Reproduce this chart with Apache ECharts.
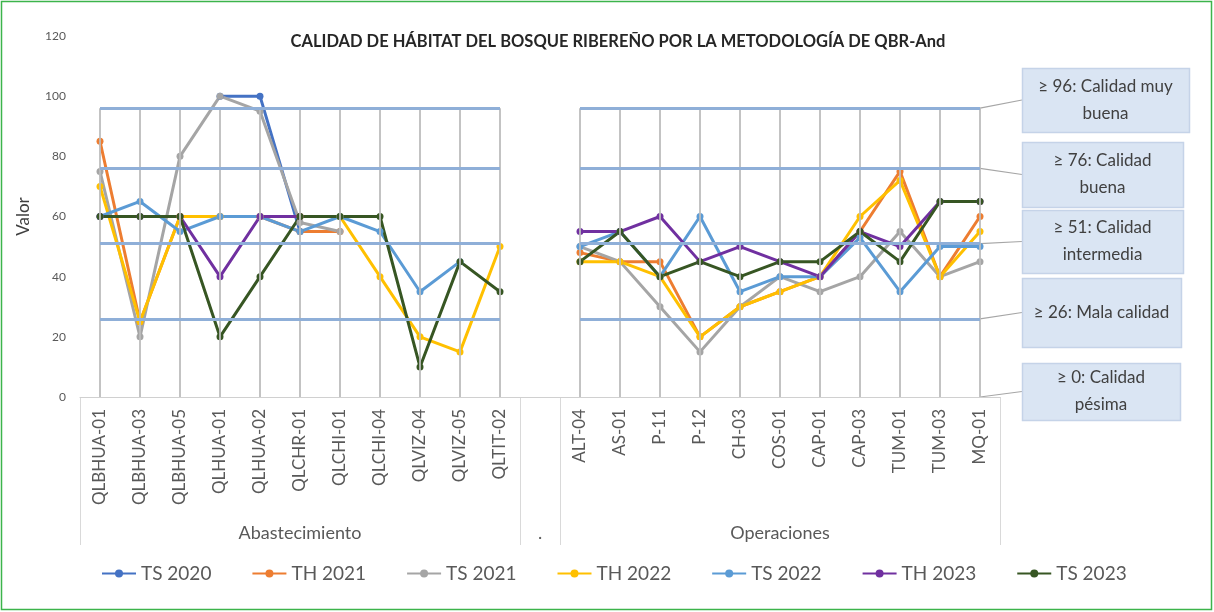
<!DOCTYPE html>
<html>
<head>
<meta charset="utf-8">
<script src="https://cdn.jsdelivr.net/npm/echarts@6/dist/echarts.min.js"></script>
<style>
html,body{margin:0;padding:0;background:#fff;}
#c{width:1214px;height:612px;}
</style>
</head>
<body>
<div id="c"></div>
<script>
// ---- data ----
const titleText = 'CALIDAD DE HÁBITAT DEL BOSQUE RIBEREÑO POR LA METODOLOGÍA DE QBR-And';
const yName = 'Valor';
const categories = ['QLBHUA-01','QLBHUA-03','QLBHUA-05','QLHUA-01','QLHUA-02','QLCHR-01','QLCHI-01','QLCHI-04','QLVIZ-04','QLVIZ-05','QLTIT-02',
  ' ',
  'ALT-04','AS-01','P-11','P-12','CH-03','COS-01','CAP-01','CAP-03','TUM-01','TUM-03','MQ-01'];
const groups = [
  {name:'Abastecimiento', first:0, last:10},
  {name:'.', first:11, last:11},
  {name:'Operaciones', first:12, last:22}
];
const seriesNames = ['TS 2020','TH 2021','TS 2021','TH 2022','TS 2022','TH 2023','TS 2023'];
const ts2020 = [null,null,null,100,100,55,null,null,null,null,null, null, null,null,null,null,null,null,null,null,null,null,null];
const th2021 = [85,25,60,60,60,55,55,null,null,null,null, null, 48,45,45,20,30,35,40,55,75,40,60];
const ts2021 = [75,20,80,100,95,58,55,null,null,null,null, null, 50,45,30,15,30,40,35,40,55,40,45];
const th2022 = [70,25,60,60,60,60,60,40,20,15,50, null, 45,45,40,20,30,35,40,60,72,40,55];
const ts2022 = [60,65,55,60,60,55,60,55,35,45,null, null, 50,55,40,60,35,40,40,53,35,50,50];
const th2023 = [60,60,60,40,60,60,null,null,null,null,null, null, 55,55,60,45,50,45,40,55,50,65,65];
const ts2023 = [60,60,60,20,40,60,60,60,10,45,35, null, 45,55,40,45,40,45,45,55,45,65,65];
const seriesData = [ts2020, th2021, ts2021, th2022, ts2022, th2023, ts2023];
const seriesColors = ['#4472C4','#ED7D31','#A5A5A5','#FFC000','#5B9BD5','#7030A0','#375623'];
const refLevels = [96, 76, 51, 26];
const calloutLevels = [96, 76, 51, 26, 0];
const calloutTexts = ['≥ 96: Calidad muy\nbuena','≥ 76: Calidad\nbuena','≥ 51: Calidad\nintermedia','≥ 26: Mala calidad','≥ 0: Calidad\npésima'];
const yTicks = {min:0, max:120, interval:20};

// ---- chart ----
const chart = echarts.init(document.getElementById('c'), null, {renderer:'canvas'});
const FONT = 'Lato';
const TXT = '#595959';

const hLines = [];
groups.filter(g => g.last > g.first).forEach(g => {
  refLevels.forEach(v => {
    hLines.push([{coord:[categories[g.first], v]}, {coord:[categories[g.last], v]}]);
  });
});
const vLines = [];
groups.filter(g => g.last > g.first).forEach(g => {
  for (let i = g.first; i <= g.last; i++) {
    vLines.push([{coord:[categories[i], 0]}, {coord:[categories[i], refLevels[0]]}]);
  }
});

const series = [
  {name:'_v', type:'line', data:[], z:1, silent:true,
   markLine:{silent:true, symbol:['none','none'], label:{show:false}, animation:false,
     lineStyle:{color:'#BDBDBD', width:1.8, type:'solid'}, data:vLines}},
  {name:'_h', type:'line', data:[], z:1, silent:true,
   markLine:{silent:true, symbol:['none','none'], label:{show:false}, animation:false,
     lineStyle:{color:'#8FAFD8', width:2.8, type:'solid'}, data:hLines}}
];
seriesNames.forEach((n, k) => {
  series.push({
    name:n, type:'line', data:seriesData[k], z:3,
    symbol:'circle', symbolSize:7, connectNulls:false,
    lineStyle:{width:3, color:seriesColors[k]},
    itemStyle:{color:seriesColors[k]}
  });
});

chart.setOption({
  animation:false,
  backgroundColor:'#fff',
  title:{text:titleText, left:613, textAlign:'center', top:28,
    textStyle:{fontFamily:FONT, fontSize:16.5, fontWeight:'bold', color:'#262626'}},
  grid:{left:80, right:214, top:36, bottom:215, containLabel:false},
  xAxis:{type:'category', data:categories, boundaryGap:true,
    axisLine:{show:true, lineStyle:{color:'#D0D0D0', width:1}},
    axisTick:{show:false},
    axisLabel:{interval:0, rotate:90, margin:12, fontFamily:FONT, fontSize:17, color:TXT},
    splitLine:{show:false}},
  yAxis:{type:'value', min:yTicks.min, max:yTicks.max, interval:yTicks.interval,
    name:yName, nameLocation:'middle', nameGap:48,
    nameTextStyle:{fontFamily:FONT, fontSize:17, color:'#404040'},
    axisLine:{show:false}, axisTick:{show:false}, splitLine:{show:false},
    axisLabel:{fontFamily:FONT, fontSize:12, color:TXT, margin:14}},
  legend:{data:seriesNames, left:96, top:559, itemWidth:34, itemHeight:10, itemGap:40,
    textStyle:{fontFamily:FONT, fontSize:19, color:TXT}},
  series:series
});

// ---- decorations computed from the chart's scales ----
const p0 = chart.convertToPixel({gridIndex:0}, [categories[0], 0]);
const p1 = chart.convertToPixel({gridIndex:0}, [categories[1], 0]);
const half = (p1[0] - p0[0]) / 2;
const axisY = p0[1];
const tableBottom = axisY + 148;
const gfx = [];
gfx.push({type:'rect', shape:{x:1.5, y:1.5, width:1210, height:608}, style:{fill:null, stroke:'#3CB44B', lineWidth:1.5}, z:0});
const bounds = new Set();
groups.forEach(g => {
  const a = chart.convertToPixel({gridIndex:0}, [categories[g.first], 0])[0] - half;
  const b = chart.convertToPixel({gridIndex:0}, [categories[g.last], 0])[0] + half;
  bounds.add(Math.round(a)); bounds.add(Math.round(b));
  gfx.push({type:'text', x:(a+b)/2, y:axisY+136, style:{text:g.name, fontFamily:FONT, fontSize:18, fill:TXT, align:'center', verticalAlign:'middle'}});
});
bounds.forEach(x => {
  gfx.push({type:'line', shape:{x1:x+0.5, y1:axisY, x2:x+0.5, y2:tableBottom}, style:{stroke:'#D9D9D9', lineWidth:1}});
});
const boxes = [
  {x:1022, y:68, w:167, h:64},
  {x:1022, y:142, w:161, h:65},
  {x:1022, y:210, w:161, h:63},
  {x:1022, y:278, w:159, h:69},
  {x:1022, y:363, w:158, h:57}
];
const lastCat = categories[categories.length - 1];
calloutLevels.forEach((v, i) => {
  const b = boxes[i];
  const s = chart.convertToPixel({gridIndex:0}, [lastCat, v]);
  gfx.push({type:'line', shape:{x1:s[0], y1:s[1], x2:b.x, y2:b.y + b.h/2}, style:{stroke:'#A6A6A6', lineWidth:1.2}});
  gfx.push({type:'rect', shape:{x:b.x+0.5, y:b.y+0.5, width:b.w, height:b.h}, style:{fill:'#DAE5F3', stroke:'#C5D3E8', lineWidth:1.5}});
  gfx.push({type:'text', x:b.x + b.w/2, y:b.y + b.h/2, style:{text:calloutTexts[i], fontFamily:FONT, fontSize:17, lineHeight:27, fill:'#404040', align:'center', verticalAlign:'middle'}});
});
chart.setOption({graphic:gfx});
</script>
</body>
</html>
